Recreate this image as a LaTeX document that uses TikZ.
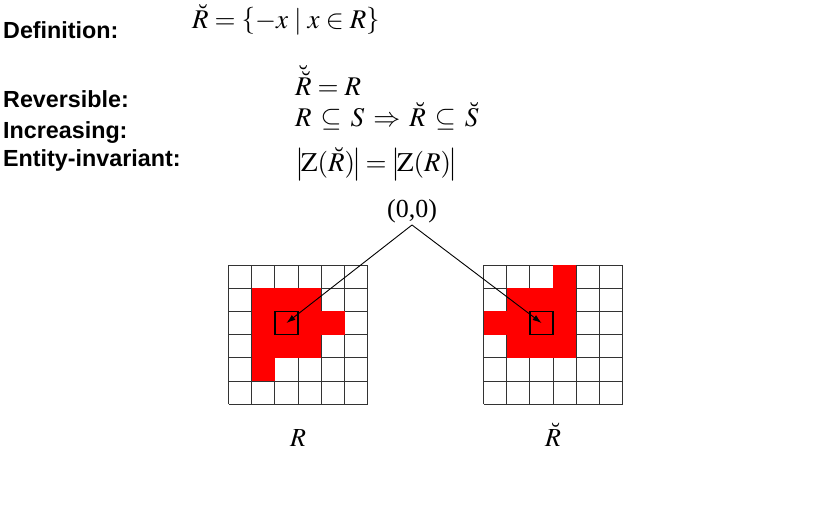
\documentclass[tikz,border=0pt]{standalone}
\usepackage{mathptmx}
\usepackage[no-math]{fontspec}
\setsansfont{Liberation Sans}
\newfontfamily\tms{Liberation Serif}
\usetikzlibrary{arrows.meta}
\def\cs{23.2}

\begin{document}
\begin{tikzpicture}[x=1pt, y=-1pt,
    lbl/.style={anchor=base west, inner sep=0pt, font=\sffamily\bfseries\fontsize{23.3}{27}\selectfont},
    frm/.style={anchor=base west, inner sep=0pt, font=\fontsize{27}{32}\selectfont},
    gridline/.style={draw=black!80, line width=1pt},
    origbox/.style={draw, line width=1.3pt, minimum size=\cs pt, inner sep=0pt},
    ptr/.style={-{Latex[length=9pt,width=6pt]}, line width=0.9pt}]
    \useasboundingbox (0,0) rectangle (831,530);

    % ラベル
    \node[lbl] (def) at (3,38) {Definition:};
    \node[lbl] (rev) at (3,107) {Reversible:};
    \node[lbl] (inc) at (3,138) {Increasing:};
    \node[lbl] (ent) at (3,166) {Entity-invariant:};

    % 式
    \node[frm] (fdef) at (192,28) {$\breve{R}=\left\{-x\mskip4mu|\mskip4mu x\in R\right\}$};
    \node[frm] (frev) at (295,95) {$\breve{\breve{R}}=R$};
    \node[frm] (finc) at (295,126) {$\thickmuskip=6mu R\subseteq S\Rightarrow \breve{R}\subseteq\breve{S}$};
    \node[frm] (fent) at (295,171) {$\thickmuskip=3mu \left|\mskip-2mu\mathrm{Z}(\breve{R})\mskip-2mu\right|=\left|\mskip-2mu\mathrm{Z}(R)\mskip-2mu\vphantom{\breve{R}}\right|$};

    % 左の格子 R
    \begin{scope}[shift={(228.5,265)}]
        \foreach \i in {0,...,6} {
            \draw[gridline] (\i*\cs,0) -- (\i*\cs,6*\cs);
            \draw[gridline] (0,\i*\cs) -- (6*\cs,\i*\cs);
        }
        \foreach \c/\r in {1/1,2/1,3/1,1/2,2/2,3/2,4/2,1/3,2/3,3/3,1/4}
            \fill[red] (\c*\cs,\r*\cs) rectangle ++(\cs,\cs);
        \node[origbox] (oL) at (2.5*\cs,2.5*\cs) {};
        \node[anchor=base, inner sep=0pt, font=\fontsize{26}{30}\selectfont] (nR) at (3*\cs,181) {$R$};
    \end{scope}

    % 右の格子 R の反転
    \begin{scope}[shift={(483.5,265)}]
        \foreach \i in {0,...,6} {
            \draw[gridline] (\i*\cs,0) -- (\i*\cs,6*\cs);
            \draw[gridline] (0,\i*\cs) -- (6*\cs,\i*\cs);
        }
        \foreach \c/\r in {3/0,1/1,2/1,3/1,0/2,1/2,2/2,3/2,1/3,2/3,3/3}
            \fill[red] (\c*\cs,\r*\cs) rectangle ++(\cs,\cs);
        \node[origbox] (oR) at (2.5*\cs,2.5*\cs) {};
        \node[anchor=base, inner sep=0pt, font=\fontsize{26}{30}\selectfont] (nRb) at (3*\cs,181) {$\breve{R}$};
    \end{scope}

    % 原点
    \node[font=\tms\fontsize{26}{30}\selectfont, inner sep=2pt] (origin) at (412,211) {(0,0)};
    \draw[ptr] (origin.south) -- (oL.center);
    \draw[ptr] (origin.south) -- (oR.center);
\end{tikzpicture}
\end{document}
